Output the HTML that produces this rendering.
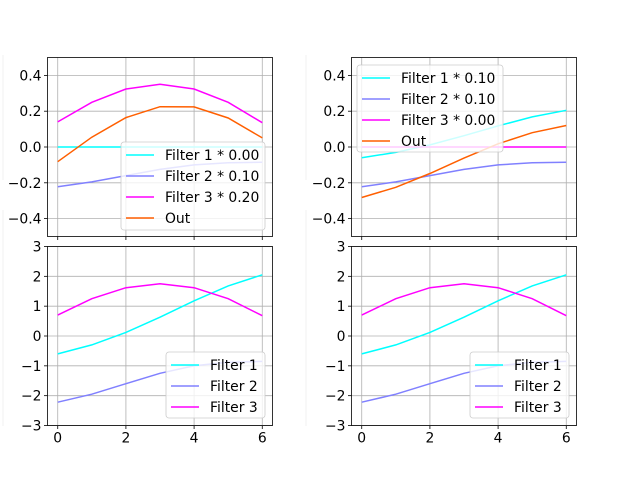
<!DOCTYPE html>
<html><head><meta charset="utf-8"><style>
html,body{margin:0;padding:0;background:#fff;}
svg{display:block;font-family:"DejaVu Sans","Liberation Sans",sans-serif;}
</style></head><body>
<svg id="fig" width="640" height="478" viewBox="0 0 640 478" xmlns="http://www.w3.org/2000/svg"></svg>
<script>
const xs = [0,1,2,3,4,5,6];
const filter1 = [-0.6,-0.3,0.12,0.63,1.18,1.68,2.05];
const filter2 = [-2.22,-1.95,-1.6,-1.25,-1.0,-0.88,-0.85];
const filter3 = [0.7,1.25,1.62,1.75,1.62,1.25,0.68];
const weightsLeft = [0.0,0.1,0.2];
const weightsRight = [0.1,0.1,0.0];
const xTicks = [0,2,4,6];
const yTicksTop = [-0.4,-0.2,0.0,0.2,0.4];
const yTicksBottom = [-3,-2,-1,0,1,2,3];
const colors = ['#00ffff','#8080ff','#ff00ff','#ff5f00'];
const NS='http://www.w3.org/2000/svg';
const svg=document.getElementById('fig');
function mk(tag,attrs,parent){const e=document.createElementNS(NS,tag);for(const k in attrs)e.setAttribute(k,attrs[k]);(parent||svg).appendChild(e);return e;}

// faint background lines
[[3,55,3,180],[3,210,3,426],[306,55,306,180],[306,210,306,426]].forEach(l=>{
  const e=mk('line',{x1:l[0],y1:l[1],x2:l[2],y2:l[3],stroke:'#f0f0f0','stroke-width':1});
  
  
});

function axes(name,L,T,R,B,ymin,ymax,yTicks,fmt,series,labels,legendBox,showX){
  const g=mk('g',{});
  
  
  const xmin=-0.3,xmax=6.3;
  const sx=v=>L+(v-xmin)/(xmax-xmin)*(R-L);
  const sy=v=>B-(v-ymin)/(ymax-ymin)*(B-T);
  xTicks.forEach(t=>{
    const x=sx(t);
    const gl=mk('line',{x1:x,y1:T,x2:x,y2:B,stroke:'#b0b0b0','stroke-width':0.8},g);
    
    
    const tk=mk('line',{x1:x,y1:B,x2:x,y2:B+3.5,stroke:'#000','stroke-width':0.8},g);
    
    
    if(showX){
      const tx=mk('text',{x:x,y:B+17,'font-size':'13.9px','text-anchor':'middle',fill:'#000'},g);
      tx.textContent=String(t);
      
      
    }
  });
  yTicks.forEach(t=>{
    const y=sy(t);
    const gl=mk('line',{x1:L,y1:y,x2:R,y2:y,stroke:'#b0b0b0','stroke-width':0.8},g);
    
    
    const tk=mk('line',{x1:L-3.5,y1:y,x2:L,y2:y,stroke:'#000','stroke-width':0.8},g);
    
    
    const tx=mk('text',{x:L-6,y:y+5,'font-size':'13.9px','text-anchor':'end',fill:'#000'},g);
    tx.textContent=fmt(t).replace('-','\u2212');
    
    
  });
  series.forEach((s,i)=>{
    const pts=xs.map((x,j)=>sx(x).toFixed(1)+','+sy(s.v[j]).toFixed(1)).join(' ');
    const p=mk('polyline',{points:pts,fill:'none',stroke:s.c,'stroke-width':1.5},g);
    
    
  });
  const fr=mk('rect',{x:L,y:T,width:R-L,height:B-T,fill:'none',stroke:'#000','stroke-width':0.8},g);
  
  
  // legend
  const [lx,ly,lw,lh]=legendBox;
  const lg=mk('g',{},g);
  
  
  mk('rect',{x:lx,y:ly,width:lw,height:lh,rx:3,fill:'rgba(255,255,255,0.8)',stroke:'#cccccc','stroke-width':0.8},lg);
  series.forEach((s,i)=>{
    const yy=ly+13+i*21;
    const ln=mk('line',{x1:lx+5,y1:yy,x2:lx+33,y2:yy,stroke:s.c,'stroke-width':1.5},lg);
    
    
    const tx=mk('text',{x:lx+44,y:yy+5,'font-size':'13.9px',fill:'#000'},lg);
    tx.textContent=labels[i];
    
    
  });
}
const f2=v=>v.toFixed(1);
const fi=v=>String(v);
const outL=xs.map((x,j)=>weightsLeft[0]*filter1[j]+weightsLeft[1]*filter2[j]+weightsLeft[2]*filter3[j]);
const outR=xs.map((x,j)=>weightsRight[0]*filter1[j]+weightsRight[1]*filter2[j]+weightsRight[2]*filter3[j]);
const sc=(a,w)=>a.map(v=>v*w);
axes('top-left-axes',47.5,57.5,272.5,236.5,-0.5,0.5,yTicksTop,f2,
  [{v:sc(filter1,weightsLeft[0]),c:colors[0]},{v:sc(filter2,weightsLeft[1]),c:colors[1]},{v:sc(filter3,weightsLeft[2]),c:colors[2]},{v:outL,c:colors[3]}],
  ['Filter 1 * '+weightsLeft[0].toFixed(2),'Filter 2 * '+weightsLeft[1].toFixed(2),'Filter 3 * '+weightsLeft[2].toFixed(2),'Out'],
  [121,142,144,88],false);
axes('top-right-axes',351.5,57.5,576.5,236.5,-0.5,0.5,yTicksTop,f2,
  [{v:sc(filter1,weightsRight[0]),c:colors[0]},{v:sc(filter2,weightsRight[1]),c:colors[1]},{v:sc(filter3,weightsRight[2]),c:colors[2]},{v:outR,c:colors[3]}],
  ['Filter 1 * '+weightsRight[0].toFixed(2),'Filter 2 * '+weightsRight[1].toFixed(2),'Filter 3 * '+weightsRight[2].toFixed(2),'Out'],
  [357,65,146,87],false);
axes('bottom-left-axes',47.5,246.5,272.5,425.5,-3,3,yTicksBottom,fi,
  [{v:filter1,c:colors[0]},{v:filter2,c:colors[1]},{v:filter3,c:colors[2]}],
  ['Filter 1','Filter 2','Filter 3'],[166,352,99,66],true);
axes('bottom-right-axes',351.5,246.5,576.5,425.5,-3,3,yTicksBottom,fi,
  [{v:filter1,c:colors[0]},{v:filter2,c:colors[1]},{v:filter3,c:colors[2]}],
  ['Filter 1','Filter 2','Filter 3'],[470,352,99,66],true);
</script>
</body></html>
